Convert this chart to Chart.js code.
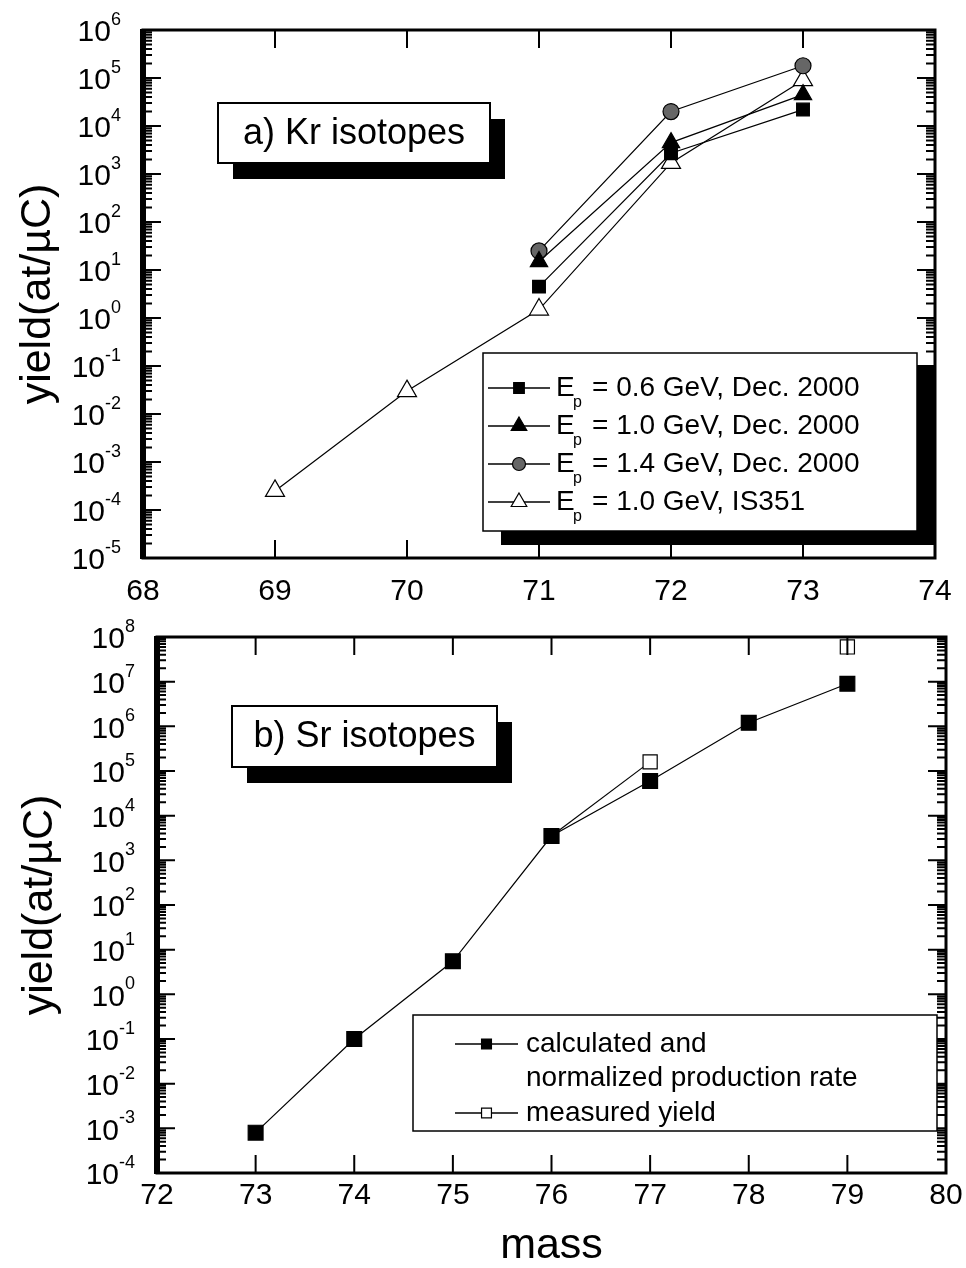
<!DOCTYPE html>
<html>
<head>
<meta charset="utf-8">
<script src="https://cdn.jsdelivr.net/npm/chart.js@4.4.1/dist/chart.umd.min.js"></script>
<style>
  html, body { margin: 0; padding: 0; background: #fff; }
  #wrap { position: relative; width: 966px; height: 1268px; }
  canvas { position: absolute; left: 0; }
  #krChart { top: 0; }
  #srChart { top: 610px; }
</style>
</head>
<body>
<div id="wrap">
  <canvas id="krChart" width="966" height="610" style="width:966px;height:610px"></canvas>
  <canvas id="srChart" width="966" height="658" style="width:966px;height:658px"></canvas>
</div>
<script>
// ---- data: a) Kr isotopes ----
const krMass   = [69, 70, 71, 72, 73];
const kr06     = [null, null, 4.5, 2.7e3, 2.2e4];
const kr10     = [null, null, 15, 4.5e3, 4.5e4];
const kr14     = [null, null, 25, 2.0e4, 1.8e5];
const krIS351  = [2.5e-4, 3e-2, 1.5, 1.7e3, 9e4];
const krLegend = ['= 0.6 GeV, Dec. 2000', '= 1.0 GeV, Dec. 2000', '= 1.4 GeV, Dec. 2000', '= 1.0 GeV, IS351'];
const krXTicks = [68, 69, 70, 71, 72, 73, 74];
const krYExp   = [-5, -4, -3, -2, -1, 0, 1, 2, 3, 4, 5, 6];

// ---- data: b) Sr isotopes ----
const srMass   = [73, 74, 75, 76, 77, 78, 79];
const srCalc   = [8e-4, 0.1, 5.5, 3.5e3, 6e4, 1.2e6, 9e6];
const srMeas   = [null, null, null, 3.5e3, 1.6e5, null, 6e7];
const srLegend = [['calculated and', 'normalized production rate'], ['measured yield']];
const srXTicks = [72, 73, 74, 75, 76, 77, 78, 79, 80];
const srYExp   = [-4, -3, -2, -1, 0, 1, 2, 3, 4, 5, 6, 7, 8];

const FONT = '"Liberation Sans", Arial, Helvetica, sans-serif';

// turn a mass list + value list into {x, y} points
function pts(masses, values) {
  return masses.map((m, i) => ({ x: m, y: values[i] }));
}

function series(label, data, style, radius, fill) {
  return {
    label, data,
    borderColor: '#000', borderWidth: 1.2,
    pointStyle: style, pointRadius: radius,
    pointBackgroundColor: fill, pointBorderColor: '#000', pointBorderWidth: 1.2,
    clip: false
  };
}

// draw a boxed label with a black drop shadow
function shadowBox(ctx, x, y, w, h, dx, dy, lw) {
  ctx.fillStyle = '#000';
  ctx.fillRect(x + dx, y + dy, w, h);
  ctx.fillStyle = '#fff';
  ctx.fillRect(x, y, w, h);
  ctx.lineWidth = lw;
  ctx.strokeStyle = '#000';
  ctx.strokeRect(x, y, w, h);
}

// legend marker: a short line with the dataset's point drawn in the middle
function legendMark(ctx, ds, x0, x1, y, radius) {
  ctx.strokeStyle = '#000';
  ctx.lineWidth = 1.5;
  ctx.beginPath();
  ctx.moveTo(x0, y); ctx.lineTo(x1, y);
  ctx.stroke();
  ctx.fillStyle = ds.pointBackgroundColor;
  ctx.lineWidth = 1.2;
  Chart.helpers.drawPoint(ctx, { pointStyle: ds.pointStyle, radius, rotation: 0, borderWidth: 1.2 }, (x0 + x1) / 2, y);
}

// frame, inward ticks, superscript tick labels and titles, like the paper figure
const paperAxes = {
  id: 'paperAxes',
  afterDraw(chart, args, opts) {
    const ctx = chart.ctx;
    const { left, right, top, bottom } = chart.chartArea;
    const xs = chart.scales.x, ys = chart.scales.y;
    ctx.save();
    ctx.strokeStyle = '#000';
    ctx.fillStyle = '#000';

    // frame
    ctx.lineWidth = 3;
    ctx.strokeRect(left, top, right - left, bottom - top);
    ctx.fillRect(left - 3, top - 1, 6, bottom - top + 2);

    // ticks
    ctx.lineWidth = 2;
    ctx.beginPath();
    const lastExp = opts.yExp[opts.yExp.length - 1];
    opts.yExp.forEach(e => {
      const y = ys.getPixelForValue(Math.pow(10, e));
      ctx.moveTo(left, y); ctx.lineTo(left + 18, y);
      ctx.moveTo(right, y); ctx.lineTo(right - 18, y);
      if (e < lastExp) {
        for (let m = 2; m < 10; m++) {
          const ym = ys.getPixelForValue(m * Math.pow(10, e));
          ctx.moveTo(left, ym); ctx.lineTo(left + 9, ym);
          ctx.moveTo(right, ym); ctx.lineTo(right - 9, ym);
        }
      }
    });
    opts.xTicks.forEach(v => {
      const x = xs.getPixelForValue(v);
      ctx.moveTo(x, bottom); ctx.lineTo(x, bottom - 18);
      ctx.moveTo(x, top); ctx.lineTo(x, top + 18);
    });
    ctx.stroke();

    // y tick labels 10^n
    ctx.textBaseline = 'middle';
    ctx.textAlign = 'left';
    opts.yExp.forEach(e => {
      const y = ys.getPixelForValue(Math.pow(10, e));
      ctx.font = `18px ${FONT}`;
      const ew = ctx.measureText(String(e)).width;
      ctx.font = `30px ${FONT}`;
      const bw = ctx.measureText('10').width;
      const xr = left - 22;
      ctx.fillText('10', xr - ew - bw, y + 3);
      ctx.font = `18px ${FONT}`;
      ctx.fillText(String(e), xr - ew, y - 10);
    });

    // x tick labels
    ctx.textAlign = 'center';
    ctx.font = `30px ${FONT}`;
    opts.xTicks.forEach(v => {
      ctx.fillText(String(v), xs.getPixelForValue(v), bottom + opts.xLabelOffset);
    });

    // axis titles
    ctx.font = `43px ${FONT}`;
    ctx.save();
    ctx.translate(opts.yTitleX, (top + bottom) / 2);
    ctx.rotate(-Math.PI / 2);
    ctx.fillText('yield(at/\u00B5C)', 0, 0);
    ctx.restore();
    if (opts.xTitle) {
      ctx.fillText(opts.xTitle, (left + right) / 2, bottom + opts.xTitleOffset);
    }

    // panel label box
    const b = opts.box;
    shadowBox(ctx, b.x, b.y, b.w, b.h, 15, 16, 2);
    ctx.fillStyle = '#000';
    ctx.font = `36px ${FONT}`;
    ctx.textAlign = 'center';
    ctx.fillText(b.text, b.x + b.w / 2, b.y + b.h / 2 + 1);

    opts.drawLegend(ctx, chart);
    ctx.restore();
  }
};

function baseOptions(xMin, xMax, yMin, yMax, yWidth, xHeight, padRight, padTop) {
  return {
    responsive: false,
    animation: false,
    events: [],
    layout: { autoPadding: false, padding: { left: 0, right: padRight, top: padTop, bottom: 0 } },
    plugins: { legend: { display: false }, tooltip: { enabled: false } },
    scales: {
      x: {
        type: 'linear', min: xMin, max: xMax,
        grid: { display: false }, border: { display: false }, ticks: { display: false },
        afterFit(s) { s.height = xHeight; }
      },
      y: {
        type: 'logarithmic', min: yMin, max: yMax,
        grid: { display: false }, border: { display: false }, ticks: { display: false },
        afterFit(s) { s.width = yWidth; }
      }
    }
  };
}

// ---- a) Kr isotopes ----
const krOpts = baseOptions(68, 74, 1e-5, 1e6, 143, 52, 31, 30);
krOpts.plugins.paperAxes = {
  xTicks: krXTicks, yExp: krYExp, xLabelOffset: 34, yTitleX: 38,
  box: { x: 218, y: 103, w: 272, h: 60, text: 'a) Kr isotopes' },
  drawLegend(ctx, chart) {
    shadowBox(ctx, 483, 353, 434, 178, 18, 14, 1.5);
    const rows = [388, 426, 464, 502];
    const radii = [7.5, 9, 6.5, 9];
    chart.data.datasets.forEach((ds, i) => {
      const y = rows[i];
      legendMark(ctx, ds, 488, 550, y, radii[i]);
      ctx.fillStyle = '#000';
      ctx.textAlign = 'left';
      ctx.textBaseline = 'middle';
      ctx.font = `28px ${FONT}`;
      ctx.fillText('E', 556, y);
      ctx.font = `16px ${FONT}`;
      ctx.fillText('p', 573, y + 15);
      ctx.font = `28px ${FONT}`;
      ctx.fillText(krLegend[i], 592, y);
    });
  }
};
new Chart(document.getElementById('krChart'), {
  type: 'line',
  data: {
    datasets: [
      series('0.6 GeV', pts(krMass, kr06), 'rect', 9, '#000'),
      series('1.0 GeV', pts(krMass, kr10), 'triangle', 10, '#000'),
      series('1.4 GeV', pts(krMass, kr14), 'circle', 8, '#666'),
      series('IS351', pts(krMass, krIS351), 'triangle', 11, '#fff')
    ]
  },
  options: krOpts,
  plugins: [paperAxes]
});

// ---- b) Sr isotopes ----
const srOpts = baseOptions(72, 80, 1e-4, 1e8, 157, 95, 20, 27);
srOpts.plugins.paperAxes = {
  xTicks: srXTicks, yExp: srYExp, xLabelOffset: 23, yTitleX: 40, xTitle: 'mass', xTitleOffset: 73,
  box: { x: 232, y: 96, w: 265, h: 61, text: 'b) Sr isotopes' },
  drawLegend(ctx, chart) {
    const top = 405, h = 116;
    ctx.fillStyle = '#fff';
    ctx.fillRect(413, top, 524, h);
    ctx.lineWidth = 1.5;
    ctx.strokeStyle = '#000';
    ctx.strokeRect(413, top, 524, h);
    const ds = chart.data.datasets;
    const rows = [[434, 468], [503]];
    ds.forEach((d, i) => {
      legendMark(ctx, d, 455, 518, rows[i][0], 7);
      ctx.fillStyle = '#000';
      ctx.textAlign = 'left';
      ctx.textBaseline = 'middle';
      ctx.font = `28px ${FONT}`;
      srLegend[i].forEach((line, j) => ctx.fillText(line, 526, rows[i][j]));
    });
  }
};
new Chart(document.getElementById('srChart'), {
  type: 'line',
  data: {
    datasets: [
      series('calculated', pts(srMass, srCalc), 'rect', 10.5, '#000'),
      series('measured', pts(srMass, srMeas), 'rect', 10, '#fff')
    ]
  },
  options: srOpts,
  plugins: [paperAxes]
});
</script>
</body>
</html>
